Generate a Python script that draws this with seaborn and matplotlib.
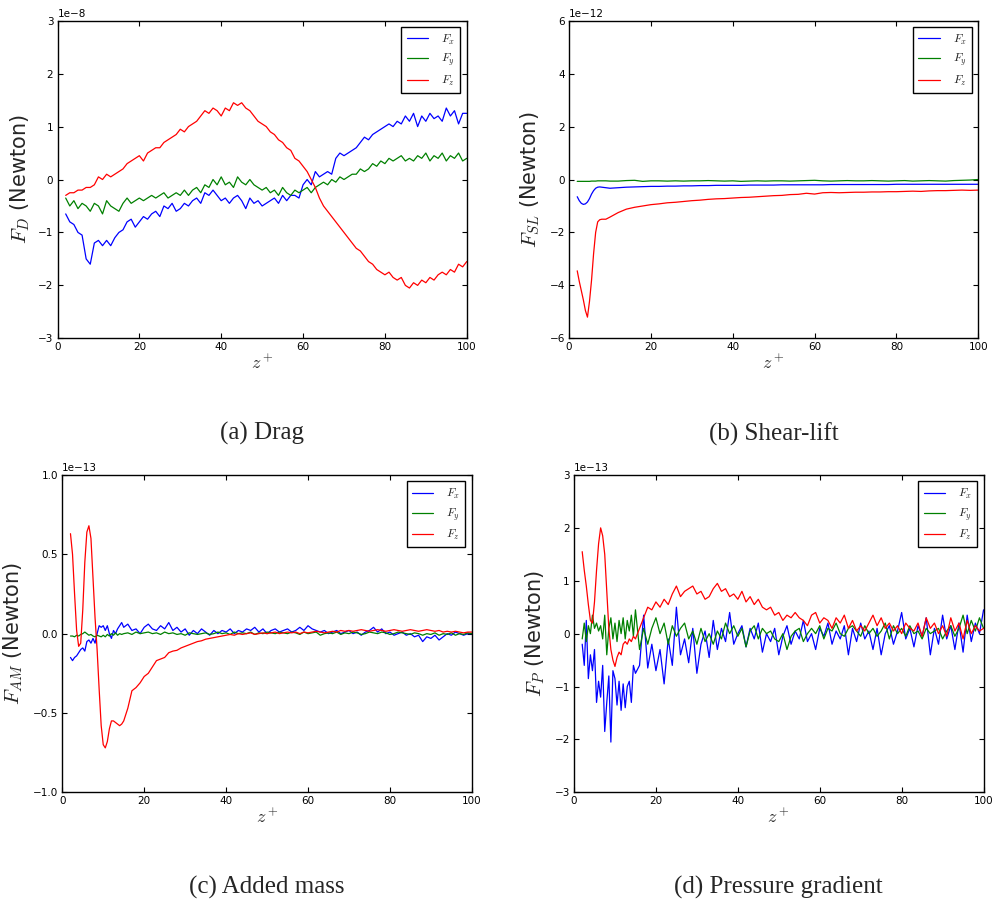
"""
Four-panel force profile figure: drag, shear-lift, added mass and pressure gradient vs z+.
"""

import matplotlib

matplotlib.use("Agg")
import matplotlib.pyplot as plt
import pandas as pd
import seaborn as sns

# ---------------------------------------------------------------- data
components = ["$F_x$", "$F_y$", "$F_z$"]
palette = {"$F_x$": "#0000ff", "$F_y$": "#008000", "$F_z$": "#ff0000"}

# (a) drag, units of 1e-8 N, sampled at z+ = 2..100
z_drag = list(range(2, 101))
drag_fx = [
    -0.65, -0.8, -0.85, -1.0, -1.05, -1.5, -1.6, -1.2, -1.15, -1.25,
    -1.15, -1.25, -1.1, -1.0, -0.95, -0.8, -0.75, -0.9, -0.8, -0.7,
    -0.75, -0.65, -0.6, -0.7, -0.5, -0.55, -0.45, -0.6, -0.55, -0.45,
    -0.5, -0.4, -0.35, -0.45, -0.25, -0.3, -0.2, -0.3, -0.4, -0.35,
    -0.45, -0.35, -0.3, -0.4, -0.55, -0.35, -0.45, -0.4, -0.5, -0.45,
    -0.4, -0.35, -0.45, -0.3, -0.4, -0.3, -0.3, -0.35, -0.1, 0.0,
    -0.1, 0.15, 0.05, 0.1, 0.15, 0.1, 0.4, 0.5, 0.45, 0.5,
    0.55, 0.6, 0.7, 0.8, 0.75, 0.85, 0.9, 0.95, 1.0, 1.05,
    1.0, 1.1, 1.05, 1.2, 1.1, 1.25, 1.0, 1.2, 1.1, 1.25,
    1.15, 1.2, 1.1, 1.35, 1.2, 1.3, 1.05, 1.25, 1.25,
]
drag_fy = [
    -0.35, -0.5, -0.4, -0.55, -0.45, -0.5, -0.6, -0.45, -0.5, -0.65,
    -0.4, -0.5, -0.55, -0.6, -0.45, -0.35, -0.45, -0.4, -0.35, -0.4,
    -0.35, -0.3, -0.35, -0.3, -0.25, -0.35, -0.3, -0.25, -0.3, -0.2,
    -0.3, -0.2, -0.15, -0.25, -0.1, -0.15, 0.0, -0.1, 0.05, -0.1,
    -0.05, -0.15, 0.05, -0.05, -0.1, 0.0, -0.1, -0.15, -0.2, -0.15,
    -0.25, -0.2, -0.3, -0.15, -0.25, -0.3, -0.2, -0.25, -0.2, -0.15,
    -0.25, -0.15, -0.1, -0.05, -0.1, 0.0, -0.05, 0.05, 0.0, 0.05,
    0.1, 0.1, 0.2, 0.15, 0.2, 0.3, 0.25, 0.35, 0.3, 0.4,
    0.35, 0.4, 0.45, 0.35, 0.4, 0.35, 0.45, 0.4, 0.5, 0.35,
    0.45, 0.4, 0.5, 0.35, 0.45, 0.4, 0.5, 0.35, 0.4,
]
drag_fz = [
    -0.3, -0.25, -0.25, -0.2, -0.2, -0.15, -0.15, -0.1, 0.05, 0.0,
    0.1, 0.05, 0.1, 0.15, 0.2, 0.3, 0.35, 0.4, 0.45, 0.35,
    0.5, 0.55, 0.6, 0.6, 0.7, 0.75, 0.8, 0.85, 0.95, 0.9,
    1.0, 1.05, 1.1, 1.2, 1.3, 1.25, 1.35, 1.3, 1.2, 1.35,
    1.3, 1.45, 1.4, 1.45, 1.35, 1.3, 1.2, 1.1, 1.05, 1.0,
    0.9, 0.85, 0.75, 0.7, 0.6, 0.55, 0.4, 0.35, 0.25, 0.15,
    0.0, -0.15, -0.35, -0.5, -0.6, -0.7, -0.8, -0.9, -1.0, -1.1,
    -1.2, -1.3, -1.35, -1.45, -1.55, -1.6, -1.7, -1.75, -1.8, -1.75,
    -1.85, -1.9, -1.85, -2.0, -2.05, -1.95, -2.0, -1.9, -1.95, -1.85,
    -1.9, -1.8, -1.75, -1.8, -1.7, -1.75, -1.6, -1.65, -1.55,
]

# (b) shear-lift, units of 1e-12 N
z_lift = [2, 2.5, 3, 3.5, 4, 4.5, 5, 5.5, 6, 6.5, 7, 7.5, 8, 9, 10] + list(range(12, 101, 2))
lift_fx = [
    -0.65, -0.8, -0.9, -0.94, -0.92, -0.85, -0.72, -0.55, -0.42, -0.33,
    -0.29, -0.28, -0.29, -0.31, -0.33,
    -0.31, -0.29, -0.28, -0.27, -0.26, -0.26, -0.25, -0.25, -0.24, -0.24,
    -0.23, -0.23, -0.22, -0.22, -0.22, -0.22, -0.21, -0.21, -0.21, -0.21,
    -0.2, -0.2, -0.2, -0.2, -0.2, -0.2, -0.19, -0.19, -0.19, -0.19,
    -0.19, -0.19, -0.19, -0.19, -0.18, -0.18, -0.18, -0.18, -0.18, -0.18,
    -0.18, -0.18, -0.18, -0.18, -0.18,
]
lift_fy = [
    -0.07, -0.07, -0.07, -0.07, -0.07, -0.07, -0.07, -0.06, -0.06, -0.06,
    -0.05, -0.05, -0.05, -0.05, -0.06,
    -0.06, -0.04, -0.03, -0.07, -0.05, -0.05, -0.06, -0.05, -0.06, -0.05,
    -0.05, -0.04, -0.05, -0.06, -0.05, -0.07, -0.06, -0.05, -0.06, -0.05,
    -0.05, -0.06, -0.05, -0.04, -0.03, -0.05, -0.06, -0.05, -0.04, -0.05,
    -0.05, -0.04, -0.05, -0.06, -0.05, -0.04, -0.06, -0.05, -0.04, -0.05,
    -0.06, -0.04, -0.03, -0.02, 0.0,
]
lift_fz = [
    -3.45, -3.85, -4.2, -4.55, -4.95, -5.2, -4.6, -3.8, -2.8, -2.0,
    -1.6, -1.52, -1.5, -1.5, -1.42,
    -1.25, -1.12, -1.05, -1.0, -0.95, -0.92, -0.88, -0.86, -0.83, -0.8,
    -0.78, -0.75, -0.73, -0.72, -0.7, -0.68, -0.67, -0.65, -0.63, -0.61,
    -0.6, -0.57, -0.56, -0.52, -0.55, -0.5, -0.49, -0.5, -0.49, -0.48,
    -0.48, -0.47, -0.47, -0.46, -0.46, -0.45, -0.44, -0.45, -0.43, -0.42,
    -0.42, -0.41, -0.4, -0.41, -0.4,
]

# (c) added mass and (d) pressure gradient, units of 1e-13 N
z_near = [2, 2.5, 3, 3.5, 4, 4.5, 5, 5.5, 6, 6.5, 7, 7.5, 8, 8.5, 9, 9.5, 10,
          10.5, 11, 11.5, 12, 12.5, 13, 13.5, 14, 14.5] + list(range(15, 101))

mass_fx = [
    -0.15, -0.17, -0.15, -0.14, -0.12, -0.1, -0.09, -0.11, -0.05, -0.04,
    -0.06, -0.03, -0.06, 0.0, 0.05, 0.04, 0.05, 0.02, 0.05, 0.0,
    -0.03, 0.02, 0.0, 0.03, 0.05, 0.07,
    0.04, 0.06, 0.02, 0.03, 0.0, 0.04, 0.06, 0.03, 0.02, 0.05,
    0.03, 0.07, 0.02, 0.04, 0.01, 0.03, -0.01, 0.02, 0.0, 0.03,
    0.01, -0.01, 0.02, 0.0, 0.02, 0.01, 0.03, 0.0, 0.02, 0.01,
    0.03, 0.02, 0.04, 0.01, 0.03, 0.0, 0.02, 0.03, 0.01, 0.02,
    0.03, 0.01, 0.02, 0.04, 0.02, 0.05, 0.03, 0.02, 0.01, 0.02,
    0.0, 0.01, 0.02, 0.0, 0.01, 0.02, 0.0, 0.01, -0.01, 0.01,
    0.02, 0.04, 0.01, 0.03, 0.0, 0.01, -0.01, 0.0, 0.01, -0.01,
    0.0, -0.02, -0.01, -0.05, -0.02, -0.03, -0.01, -0.04, -0.02, 0.0,
    -0.01, 0.01, 0.0, -0.01, 0.0, 0.0,
]
mass_fy = [
    -0.015, -0.015, -0.02, -0.01, -0.015, -0.005, 0.0, 0.01, 0.0, -0.01,
    -0.005, -0.015, -0.02, -0.01, -0.015, -0.02, -0.01, -0.02, -0.005, -0.015,
    0.0, -0.01, 0.005, -0.01, 0.0, -0.005,
    0.0, 0.005, -0.005, 0.01, 0.0, 0.005, 0.01, 0.0, 0.005, -0.005,
    0.01, 0.0, 0.005, -0.005, 0.0, -0.01, 0.005, 0.0, -0.005, 0.0,
    0.005, -0.005, 0.0, 0.01, 0.0, 0.005, -0.005, 0.01, 0.0, 0.005,
    0.0, 0.01, -0.005, 0.005, 0.0, 0.01, 0.005, 0.0, 0.01, 0.005,
    0.0, 0.01, 0.005, -0.005, 0.01, 0.0, 0.005, 0.01, -0.01, 0.0,
    0.005, 0.0, 0.01, -0.005, 0.005, 0.0, 0.01, 0.005, -0.005, 0.0,
    0.01, 0.005, 0.0, 0.01, 0.005, -0.005, 0.0, 0.01, 0.005, 0.0,
    -0.005, 0.005, 0.0, -0.01, 0.0, -0.005, 0.005, -0.01, 0.0, -0.005,
    0.005, -0.01, 0.0, -0.005, 0.005, 0.0,
]
mass_fz = [
    0.63, 0.5, 0.25, 0.02, -0.08, -0.06, 0.15, 0.45, 0.64, 0.68,
    0.6, 0.35, 0.1, -0.1, -0.35, -0.58, -0.7, -0.72, -0.68, -0.6,
    -0.55, -0.55, -0.56, -0.57, -0.58, -0.57,
    -0.55, -0.47, -0.36, -0.34, -0.31, -0.27, -0.25, -0.21, -0.17, -0.16,
    -0.15, -0.12, -0.11, -0.105, -0.09, -0.08, -0.07, -0.06, -0.05, -0.045,
    -0.035, -0.03, -0.025, -0.02, -0.015, -0.01, -0.005, -0.01, 0.0, -0.005,
    0.0, 0.005, -0.005, 0.0, 0.005, 0.0, 0.005, 0.01, 0.0, 0.005,
    0.01, 0.005, 0.01, 0.0, 0.01, 0.005, 0.01, 0.015, 0.01, 0.005,
    0.01, 0.015, 0.01, 0.02, 0.015, 0.02, 0.015, 0.02, 0.025, 0.02,
    0.015, 0.02, 0.025, 0.02, 0.015, 0.02, 0.025, 0.02, 0.015, 0.02,
    0.025, 0.02, 0.015, 0.02, 0.025, 0.02, 0.015, 0.02, 0.01, 0.015,
    0.01, 0.015, 0.01, 0.005, 0.01, 0.01,
]

press_fx = [
    -0.2, -0.6, 0.25, -0.85, -0.4, -0.7, -0.3, -1.3, -0.9, -1.2,
    -0.6, -1.85, -1.3, -0.8, -2.05, -0.7, -0.85, -1.35, -0.9, -1.45,
    -0.95, -1.4, -1.0, -0.9, -1.3, -0.6,
    -0.75, -0.6, 0.35, -0.65, -0.2, -0.7, -0.3, -0.95, -0.1, -0.6,
    0.5, -0.4, -0.1, -0.55, 0.1, -0.75, -0.2, 0.05, -0.45, 0.25,
    -0.3, 0.1, -0.15, 0.4, -0.2, 0.0, 0.15, -0.25, 0.1, -0.1,
    0.2, -0.35, 0.0, -0.15, 0.1, -0.4, -0.05, 0.15, -0.2, 0.05,
    -0.1, 0.25, -0.15, 0.0, -0.3, 0.1, -0.05, 0.2, -0.2, 0.05,
    -0.1, 0.15, -0.4, 0.1, -0.15, 0.2, -0.1, 0.05, -0.3, 0.1,
    -0.4, 0.0, 0.15, -0.2, 0.05, 0.4, -0.1, 0.1, -0.25, 0.15,
    -0.05, 0.3, -0.4, 0.1, -0.2, 0.35, -0.1, 0.15, -0.3, 0.2,
    -0.35, 0.35, -0.15, 0.2, 0.0, 0.45,
]
press_fy = [
    -0.1, 0.2, -0.15, 0.15, 0.0, 0.35, 0.1, 0.2, 0.05, 0.15,
    -0.1, 0.35, -0.4, 0.1, 0.3, -0.1, 0.2, -0.15, 0.25, 0.0,
    0.3, -0.1, 0.25, 0.05, 0.35, -0.05,
    0.45, -0.3, 0.1, -0.2, 0.1, 0.3, 0.0, 0.2, -0.2, 0.15,
    -0.05, 0.1, 0.2, -0.1, 0.05, -0.2, 0.1, -0.15, 0.0, -0.2,
    0.05, -0.1, 0.2, 0.0, 0.15, -0.05, 0.1, -0.25, 0.05, 0.15,
    -0.1, 0.1, 0.0, 0.05, -0.1, -0.15, 0.0, -0.3, -0.05, 0.05,
    0.1, -0.15, 0.0, 0.1, 0.0, 0.15, -0.1, 0.1, 0.05, 0.2,
    0.0, -0.05, 0.1, 0.15, 0.05, -0.05, 0.15, 0.0, 0.1, -0.05,
    0.05, 0.2, -0.1, 0.15, 0.0, 0.1, -0.05, 0.15, 0.0, 0.05,
    -0.1, 0.1, 0.0, 0.05, 0.1, -0.1, 0.05, 0.15, -0.05, 0.1,
    0.35, 0.0, 0.25, 0.05, 0.3, 0.1,
]
press_fz = [
    1.55, 1.2, 0.9, 0.55, 0.25, 0.2, 0.6, 1.2, 1.7, 2.0,
    1.85, 1.5, 0.8, 0.1, -0.3, -0.5, -0.62, -0.45, -0.35, -0.4,
    -0.2, -0.15, -0.2, -0.1, -0.15, -0.05,
    -0.1, 0.1, 0.3, 0.5, 0.45, 0.6, 0.5, 0.65, 0.55, 0.75,
    0.9, 0.7, 0.8, 0.85, 0.9, 0.75, 0.8, 0.65, 0.7, 0.85,
    0.95, 0.8, 0.85, 0.7, 0.75, 0.65, 0.8, 0.6, 0.7, 0.55,
    0.65, 0.5, 0.45, 0.5, 0.35, 0.4, 0.25, 0.35, 0.3, 0.4,
    0.3, 0.25, 0.15, 0.35, 0.4, 0.2, 0.3, 0.25, 0.1, 0.3,
    0.2, 0.35, 0.1, 0.25, 0.05, 0.15, 0.05, 0.2, 0.35, 0.15,
    0.3, 0.1, 0.2, 0.05, 0.15, 0.0, 0.2, 0.1, 0.05, 0.2,
    -0.05, 0.3, 0.1, 0.2, 0.0, 0.15, -0.05, 0.3, 0.05, 0.2,
    -0.1, 0.25, 0.0, 0.15, 0.05, 0.1,
]

# ---------------------------------------------------------------- style
sns.set_style("white")
plt.rcParams.update({
    "font.family": ["DejaVu Sans"],
    "mathtext.fontset": "cm",
    "axes.edgecolor": "black",
    "axes.linewidth": 1.0,
    "xtick.direction": "in",
    "ytick.direction": "in",
    "xtick.top": True,
    "ytick.right": True,
    "xtick.bottom": True,
    "ytick.left": True,
    "xtick.color": "black",
    "ytick.color": "black",
})

fig = plt.figure(figsize=(9.95, 9.08), dpi=100)

panels = [
    # rect, z, series, scale, ylim, yticks, ylabel, label x, caption
    ([0.0578, 0.6274, 0.4113, 0.3498], z_drag, (drag_fx, drag_fy, drag_fz), 1e-8,
     (-3e-8, 3e-8), [i * 1e-8 for i in range(-3, 4)], r"$F_D$ (Newton)", -0.062, "(a) Drag"),
    ([0.5719, 0.6274, 0.4113, 0.3498], z_lift, (lift_fx, lift_fy, lift_fz), 1e-12,
     (-6e-12, 6e-12), [i * 1e-12 for i in range(-6, 7, 2)], r"$F_{SL}$ (Newton)", -0.066, "(b) Shear-lift"),
    ([0.0626, 0.1274, 0.4116, 0.3495], z_near, (mass_fx, mass_fy, mass_fz), 1e-13,
     (-1e-13, 1e-13), [i * 0.5e-13 for i in range(-2, 3)], r"$F_{AM}$ (Newton)", -0.09, "(c) Added mass"),
    ([0.5769, 0.1274, 0.4116, 0.3495], z_near, (press_fx, press_fy, press_fz), 1e-13,
     (-3e-13, 3e-13), [i * 1e-13 for i in range(-3, 4)], r"$F_P$ (Newton)", -0.066, "(d) Pressure gradient"),
]

for rect, z, series, scale, ylim, yticks, ylabel, label_x, caption in panels:
    ax = fig.add_axes(rect)
    df = pd.DataFrame({
        "z": list(z) * 3,
        "F": [v * scale for s in series for v in s],
        "comp": [c for c, s in zip(components, series) for _ in s],
    })
    sns.lineplot(data=df, x="z", y="F", hue="comp", palette=palette,
                 estimator=None, sort=False, lw=0.9, ax=ax)

    ax.set_xlim(0, 100)
    ax.set_xticks(range(0, 101, 20))
    ax.set_ylim(*ylim)
    ax.set_yticks(yticks)
    ax.tick_params(length=3.5, width=0.8, labelsize=7.5, pad=3)
    ax.yaxis.get_offset_text().set_fontsize(7.5)

    ax.set_xlabel(r"$z^+$", fontsize=13, labelpad=1)
    ax.set_ylabel(ylabel, fontsize=15)
    ax.yaxis.set_label_coords(label_x, 0.5)

    leg = ax.get_legend()
    handles = leg.legend_handles
    labels = [t.get_text() for t in leg.get_texts()]
    ax.legend(handles, labels, loc="upper right", fontsize=8.5, frameon=True,
              fancybox=False, edgecolor="black", framealpha=1,
              handlelength=1.8, handletextpad=1.1, labelspacing=0.45,
              borderpad=0.45, borderaxespad=0.55)

    cx = rect[0] + rect[2] / 2
    cy = rect[1] - 84 / 908
    fig.text(cx, cy, caption, ha="center", va="top",
             family="Liberation Serif", fontsize=18)

plt.savefig("out.png", dpi=100)
